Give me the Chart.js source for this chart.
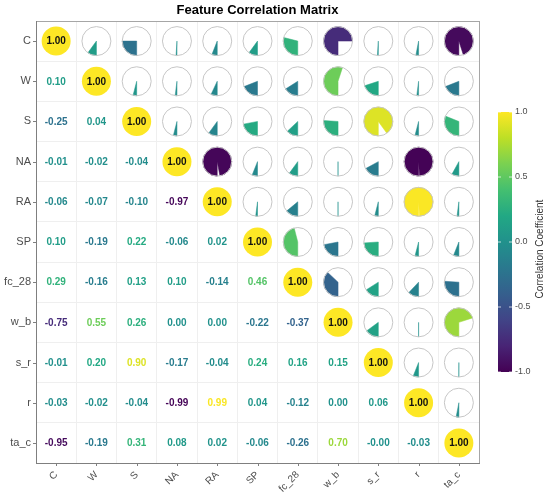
<!DOCTYPE html>
<html>
<head>
<meta charset="utf-8">
<script src="https://cdn.jsdelivr.net/npm/chart.js@4.4.1/dist/chart.umd.min.js"></script>
<style>
  html, body { margin: 0; padding: 0; background: #fff; }
  #wrap { width: 550px; height: 496px; }
</style>
</head>
<body>
<div id="wrap"><canvas id="chart"></canvas></div>
<script>
const features = ['C', 'W', 'S', 'NA', 'RA', 'SP', 'fc_28', 'w_b', 's_r', 'r', 'ta_c'];

// lower triangle of the matrix, one array per row (values left of the diagonal)
const rowW    = [0.10];
const rowS    = [-0.25, 0.04];
const rowNA   = [-0.01, -0.02, -0.04];
const rowRA   = [-0.06, -0.07, -0.10, -0.97];
const rowSP   = [0.10, -0.19, 0.22, -0.06, 0.02];
const rowFc28 = [0.29, -0.16, 0.13, 0.10, -0.14, 0.46];
const rowWb   = [-0.75, 0.55, 0.26, 0.00, 0.00, -0.22, -0.37];
const rowSr   = [-0.01, 0.20, 0.90, -0.17, -0.04, 0.24, 0.16, 0.15];
const rowR    = [-0.03, -0.02, -0.04, -0.99, 0.99, 0.04, -0.12, 0.00, 0.06];
const rowTac  = [-0.95, -0.19, 0.31, 0.08, 0.02, -0.06, -0.26, 0.70, -0.001, -0.03];

const colorbarTicks = [-1.0, -0.5, 0.0, 0.5, 1.0];

const lowerRows = [[], rowW, rowS, rowNA, rowRA, rowSP, rowFc28, rowWb, rowSr, rowR, rowTac];

function corr(i, j) {
  if (i === j) return 1;
  return i > j ? lowerRows[i][j] : lowerRows[j][i];
}

// viridis colour scale
const viridisStops = ['#440154', '#482475', '#414487', '#355f8d', '#2a788e', '#21918c',
                      '#22a884', '#44bf70', '#7ad151', '#bddf26', '#fde725'];
function hexRgb(h) {
  return [parseInt(h.substr(1, 2), 16), parseInt(h.substr(3, 2), 16), parseInt(h.substr(5, 2), 16)];
}
function viridis(t) {
  t = Math.max(0, Math.min(1, t));
  const p = t * (viridisStops.length - 1);
  const k = Math.min(Math.floor(p), viridisStops.length - 2);
  const f = p - k;
  const a = hexRgb(viridisStops[k]), b = hexRgb(viridisStops[k + 1]);
  const c = a.map((v, n) => Math.round(v + (b[n] - v) * f));
  return 'rgb(' + c.join(',') + ')';
}
const corrColor = v => viridis((v + 1) / 2);

const diagPoints = [], piePoints = [], textPoints = [];
features.forEach((rowName, i) => {
  features.forEach((colName, j) => {
    const p = { x: colName, y: rowName, v: corr(i, j) };
    if (i === j) diagPoints.push(p);
    else if (j > i) piePoints.push(p);
    else textPoints.push(p);
  });
});

const R = 14.5;
const axisGrey = '#7f7f7f';
const labelGrey = '#4d4d4d';

const matrixPlugin = {
  id: 'matrix',
  beforeDatasetsDraw(chart) {
    // pie wedges, start at 6 o'clock and run clockwise
    const ctx = chart.ctx;
    const meta = chart.getDatasetMeta(1);
    ctx.save();
    meta.data.forEach((el, k) => {
      const v = piePoints[k].v;
      const start = Math.PI / 2;
      const sweep = Math.abs(v) * Math.PI * 2;
      ctx.beginPath();
      ctx.moveTo(el.x, el.y);
      ctx.arc(el.x, el.y, R, start, start + sweep);
      ctx.closePath();
      ctx.fillStyle = corrColor(v);
      ctx.strokeStyle = corrColor(v);
      ctx.lineWidth = 0.5;
      ctx.fill();
      ctx.stroke();
    });
    ctx.restore();
  },
  afterDatasetsDraw(chart) {
    const ctx = chart.ctx;
    ctx.save();
    ctx.textAlign = 'center';
    ctx.textBaseline = 'middle';
    ctx.font = 'bold 10px "Liberation Sans", Arial, sans-serif';
    chart.getDatasetMeta(0).data.forEach((el, k) => {
      ctx.fillStyle = '#111';
      ctx.fillText(diagPoints[k].v.toFixed(2), el.x, el.y + 0.5);
    });
    chart.getDatasetMeta(2).data.forEach((el, k) => {
      const v = textPoints[k].v;
      ctx.fillStyle = corrColor(v);
      ctx.fillText(v.toFixed(2), el.x, el.y + 0.5);
    });

    // tick marks at category centres
    const xs = chart.scales.x, ys = chart.scales.y;
    ctx.strokeStyle = axisGrey;
    ctx.lineWidth = 1;
    ctx.beginPath();
    features.forEach((f, n) => {
      const px = Math.round(xs.getPixelForValue(n)) + 0.5;
      ctx.moveTo(px, xs.top);
      ctx.lineTo(px, xs.top + 3);
      const py = Math.round(ys.getPixelForValue(n)) + 0.5;
      ctx.moveTo(ys.right, py);
      ctx.lineTo(ys.right - 3, py);
    });
    ctx.stroke();
    ctx.restore();
  },
  afterDraw(chart) {
    // colour bar
    const ctx = chart.ctx;
    const left = 498, width = 14, top = 112, bottom = 372;
    const grad = ctx.createLinearGradient(0, bottom, 0, top);
    viridisStops.forEach((c, n) => grad.addColorStop(n / (viridisStops.length - 1), c));
    ctx.save();
    ctx.fillStyle = grad;
    ctx.fillRect(left, top, width, bottom - top);

    ctx.font = '9px "Liberation Sans", Arial, sans-serif';
    ctx.textAlign = 'left';
    ctx.textBaseline = 'middle';
    colorbarTicks.forEach(t => {
      const y = bottom - (t + 1) / 2 * (bottom - top);
      ctx.strokeStyle = 'rgba(255,255,255,0.9)';
      ctx.lineWidth = 0.8;
      ctx.beginPath();
      ctx.moveTo(left, y); ctx.lineTo(left + 3, y);
      ctx.moveTo(left + width - 3, y); ctx.lineTo(left + width, y);
      ctx.stroke();
      ctx.fillStyle = labelGrey;
      ctx.fillText(t.toFixed(1), left + width + 3, y);
    });

    ctx.translate(540, 249);
    ctx.rotate(-Math.PI / 2);
    ctx.textAlign = 'center';
    ctx.font = '10px "Liberation Sans", Arial, sans-serif';
    ctx.fillStyle = '#333';
    ctx.fillText('Correlation Coefficient', 0, 0);
    ctx.restore();
  }
};

const gridColor = c => (c.index === 0 || c.index === undefined) ? '#a6a6a6' : '#efefef';

new Chart(document.getElementById('chart'), {
  type: 'scatter',
  data: {
    datasets: [
      { data: diagPoints, pointRadius: R, pointHoverRadius: R, backgroundColor: '#fde725', borderWidth: 0 },
      { data: piePoints, pointRadius: R, pointHoverRadius: R, backgroundColor: 'rgba(0,0,0,0)',
        borderColor: '#c6c6c6', borderWidth: 1 },
      { data: textPoints, pointRadius: 0, pointHoverRadius: 0 }
    ]
  },
  options: {
    responsive: true,
    maintainAspectRatio: false,
    animation: false,
    events: [],
    layout: { padding: { top: 0, left: 0, right: 71, bottom: 0 } },
    plugins: {
      legend: { display: false },
      tooltip: { enabled: false },
      title: {
        display: true,
        fullSize: false,
        text: 'Feature Correlation Matrix',
        color: '#000',
        font: { family: '"Liberation Sans", Arial, sans-serif', size: 13, weight: 'bold' },
        padding: { top: 3, bottom: 2.4 }
      }
    },
    scales: {
      x: {
        type: 'category',
        labels: features,
        offset: true,
        grid: { offset: true, drawTicks: false, color: gridColor, lineWidth: 1 },
        border: { display: true, color: axisGrey, width: 1 },
        ticks: {
          color: labelGrey, padding: 6, minRotation: 45, maxRotation: 45, autoSkip: false,
          font: { family: '"Liberation Sans", Arial, sans-serif', size: 10 }
        },
        afterFit: s => { s.height = 33; }
      },
      y: {
        type: 'category',
        labels: features,
        offset: true,
        grid: { offset: true, drawTicks: false, color: gridColor, lineWidth: 1 },
        border: { display: true, color: axisGrey, width: 1 },
        ticks: {
          color: labelGrey, padding: 5, autoSkip: false,
          font: { family: '"Liberation Sans", Arial, sans-serif', size: 11 }
        },
        afterFit: s => { s.width = 36; }
      }
    }
  },
  plugins: [matrixPlugin]
});
</script>
</body>
</html>
